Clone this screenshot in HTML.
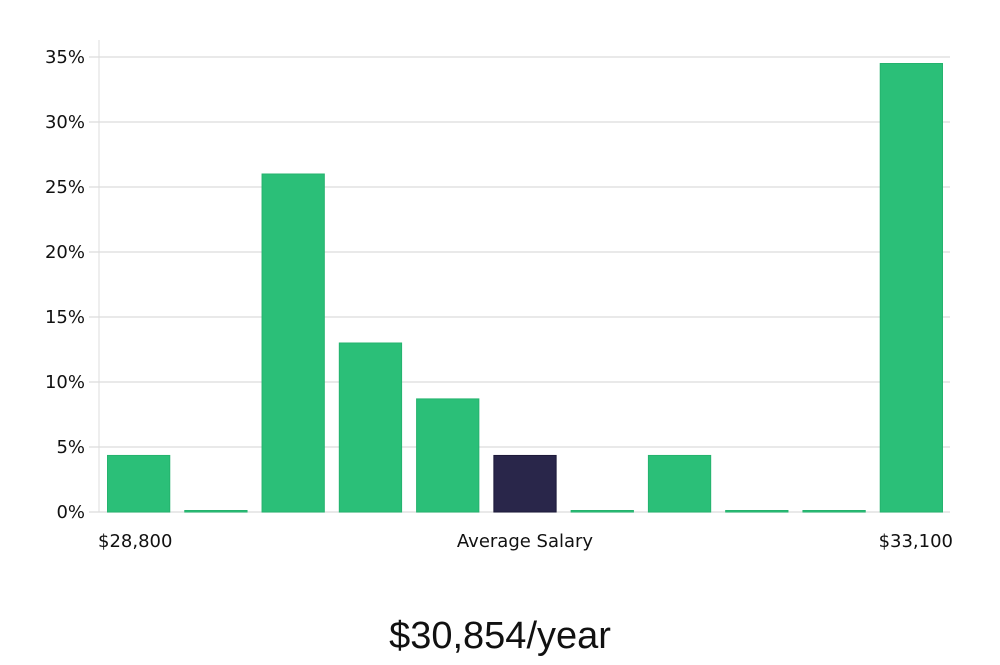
<!DOCTYPE html>
<html><head><meta charset="utf-8"><style>
body{margin:0;background:#fff;}
svg text{font-family:"DejaVu Sans","Liberation Sans",sans-serif;fill:#111;}
</style></head><body>
<svg width="1000" height="660" id="chart">
<g id="grid"></g>
<line x1="99" y1="40" x2="99" y2="512" stroke="#ddd" stroke-width="1"/>
<g id="bars"></g>
<text x="98" y="547" font-size="18">$28,800</text>
<text x="525" y="547" font-size="18" text-anchor="middle">Average Salary</text>
<text x="953" y="547" font-size="18" text-anchor="end">$33,100</text>
<text x="500" y="648" font-size="38" text-anchor="middle" style="font-family:'Liberation Sans',sans-serif;font-weight:300">$30,854/year</text>
</svg>
<script>
const categories=["b1","b2","b3","b4","b5","b6","b7","b8","b9","b10","b11"];
const values=[4.35,0,26,13,8.7,4.35,0,4.35,0,0,34.5];
const highlight=[false,false,false,false,false,true,false,false,false,false,false];
const ticks=[0,5,10,15,20,25,30,35];
const ns="http://www.w3.org/2000/svg";
const x0=100,x1=950,y0=512,yMax=35,yTop=57;
const y=v=>y0-(v/yMax)*(y0-yTop);
const band=(x1-x0)/categories.length;
const g=document.getElementById('grid');
ticks.forEach(t=>{
 const l=document.createElementNS(ns,'line');
 
 
 l.setAttribute('x1',89);l.setAttribute('x2',950);
 l.setAttribute('y1',y(t));l.setAttribute('y2',y(t));
 l.setAttribute('stroke','#e2e2e2');l.setAttribute('stroke-width','1.5');
 g.appendChild(l);
 const tx=document.createElementNS(ns,'text');
 
 
 tx.setAttribute('x',85);tx.setAttribute('y',y(t)+6);
 tx.setAttribute('text-anchor','end');tx.setAttribute('font-size','18');
 tx.textContent=t+'%';
 g.appendChild(tx);
});
const b=document.getElementById('bars');
values.forEach((v,i)=>{
 const r=document.createElementNS(ns,'rect');
 
 
 const h=Math.max(1.5,y0-y(v));
 r.setAttribute('x',x0+i*band+7.5);r.setAttribute('width',band-15);
 r.setAttribute('y',y0-h);r.setAttribute('height',h);
 r.setAttribute('fill',highlight[i]?'#29264a':'#2bbf78');
 r.setAttribute('stroke',highlight[i]?'#1d1a3a':'#25b36e');r.setAttribute('stroke-width','1');
 b.appendChild(r);
});
</script>
</body></html>
